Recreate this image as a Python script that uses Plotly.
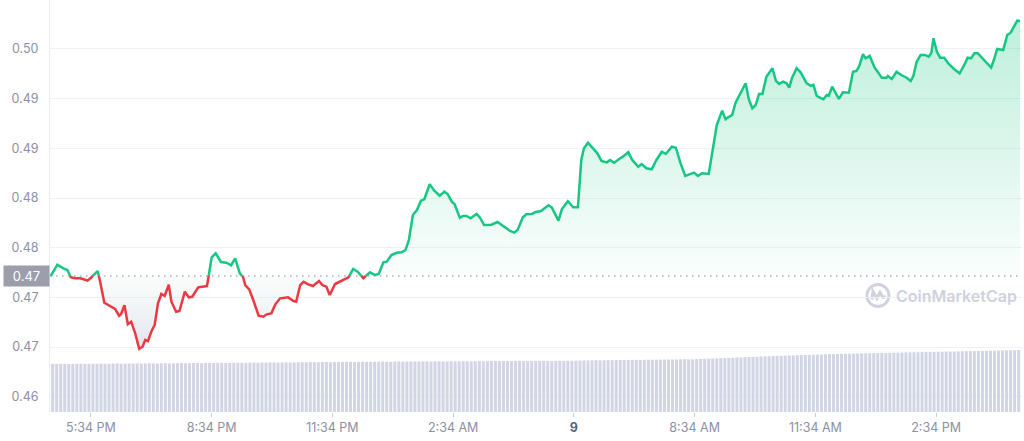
import pandas as pd
import plotly.graph_objects as go

START = pd.Timestamp("2023-08-08 16:34")

# price samples: minutes after 4:34 PM, price in USD
minutes = [
    0, 10, 19, 25, 30, 36, 44, 49, 55, 61,
    70, 73, 80, 88, 96, 102, 105, 110, 115, 120,
    126, 132, 137, 141, 145, 150, 155, 160, 165, 170,
    176, 180, 187, 192, 200, 206, 211, 220, 226, 233,
    235, 240, 246, 254, 262, 269, 275, 282, 287, 290,
    296, 302, 310, 317, 322, 329, 335, 342, 354, 362,
    366, 372, 377, 384, 391, 400, 405, 411, 416, 424,
    431, 440, 444, 451, 458, 466, 476, 483, 489, 496,
    501, 508, 516, 523, 529, 534, 540, 546, 552, 557,
    565, 572, 580, 587, 592, 598, 602, 610, 615, 620,
    626, 635, 640, 646, 657, 666, 677, 685, 691, 696,
    704, 709, 717, 723, 731, 742, 747, 752, 757, 762,
    771, 779, 786, 791, 795, 801, 809, 815, 821, 829,
    834, 840, 849, 853, 861, 867, 876, 881, 888, 896,
    903, 911, 917, 926, 932, 939, 946, 953, 959, 965,
    971, 981, 988, 993, 1001, 1006, 1010, 1016, 1021, 1029,
    1036, 1041, 1046, 1051, 1056, 1061, 1067, 1076, 1081, 1086,
    1092, 1097, 1101, 1105, 1112, 1118, 1127, 1129, 1133, 1137,
    1142, 1149, 1152, 1157, 1160, 1165, 1170, 1175, 1181, 1190,
    1196, 1201, 1205, 1211, 1215, 1221, 1228, 1234, 1239, 1246,
    1248, 1254, 1261, 1268, 1276, 1282, 1286, 1291, 1297, 1303,
    1309, 1313, 1316, 1321, 1326, 1332, 1338, 1347, 1355, 1362,
    1367, 1372, 1377, 1382, 1393, 1402, 1406, 1411, 1420, 1426,
    1431, 1437, 1441, 1445,
]
prices = [
    0.47465, 0.47579, 0.47542, 0.47525, 0.47452, 0.47442, 0.47442, 0.47432, 0.47418, 0.47452,
    0.47515, 0.47432, 0.47196, 0.47163, 0.47133, 0.47065, 0.47082, 0.47170, 0.46979, 0.47005,
    0.46888, 0.46733, 0.46753, 0.46821, 0.46810, 0.46904, 0.46972, 0.47190, 0.47284, 0.47264,
    0.47377, 0.47206, 0.47105, 0.47113, 0.47307, 0.47250, 0.47256, 0.47351, 0.47357, 0.47364,
    0.47442, 0.47653, 0.47693, 0.47606, 0.47599, 0.47573, 0.47643, 0.47492, 0.47452, 0.47374,
    0.47331, 0.47223, 0.47065, 0.47055, 0.47079, 0.47089, 0.47180, 0.47240, 0.47250, 0.47213,
    0.47206, 0.47374, 0.47407, 0.47381, 0.47364, 0.47414, 0.47374, 0.47357, 0.47274, 0.47384,
    0.47407, 0.47432, 0.47452, 0.47535, 0.47505, 0.47442, 0.47502, 0.47475, 0.47485, 0.47603,
    0.47609, 0.47676, 0.47699, 0.47703, 0.47727, 0.47827, 0.48079, 0.48129, 0.48223, 0.48237,
    0.48388, 0.48324, 0.48273, 0.48314, 0.48287, 0.48213, 0.48190, 0.48052, 0.48069, 0.48069,
    0.48046, 0.48089, 0.48052, 0.47978, 0.47981, 0.48008, 0.47951, 0.47918, 0.47901, 0.47928,
    0.48056, 0.48086, 0.48089, 0.48109, 0.48119, 0.48177, 0.48156, 0.48096, 0.48022, 0.48136,
    0.48217, 0.48156, 0.48156, 0.48633, 0.48750, 0.48807, 0.48750, 0.48700, 0.48623, 0.48609,
    0.48633, 0.48605, 0.48650, 0.48666, 0.48710, 0.48633, 0.48565, 0.48592, 0.48549, 0.48539,
    0.48633, 0.48716, 0.48693, 0.48767, 0.48756, 0.48599, 0.48472, 0.48492, 0.48505, 0.48472,
    0.48499, 0.48492, 0.48801, 0.48985, 0.49129, 0.49042, 0.49062, 0.49086, 0.49209, 0.49320,
    0.49405, 0.49237, 0.49153, 0.49186, 0.49297, 0.49297, 0.49471, 0.49556, 0.49431, 0.49398,
    0.49421, 0.49405, 0.49360, 0.49455, 0.49556, 0.49515, 0.49405, 0.49398, 0.49378, 0.49388,
    0.49277, 0.49254, 0.49244, 0.49287, 0.49280, 0.49371, 0.49310, 0.49247, 0.49314, 0.49310,
    0.49521, 0.49528, 0.49572, 0.49697, 0.49656, 0.49680, 0.49566, 0.49505, 0.49461, 0.49461,
    0.49478, 0.49448, 0.49521, 0.49488, 0.49461, 0.49428, 0.49478, 0.49622, 0.49690, 0.49690,
    0.49673, 0.49713, 0.49858, 0.49723, 0.49662, 0.49662, 0.49606, 0.49546, 0.49505, 0.49589,
    0.49662, 0.49656, 0.49707, 0.49707, 0.49622, 0.49562, 0.49639, 0.49750, 0.49740, 0.49891,
    0.49914, 0.49992, 0.50035, 0.50032,
]

# volume bars (millions), one per 6-minute slot
volumes = [
    482, 481, 483, 482, 480, 481, 482, 483, 481, 482,
    483, 482, 484, 483, 482, 484, 485, 483, 484, 485,
    485, 486, 484, 485, 487, 486, 485, 487, 488, 486,
    487, 488, 489, 487, 488, 490, 489, 488, 490, 491,
    490, 491, 492, 491, 490, 492, 493, 492, 491, 493,
    494, 493, 495, 494, 496, 495, 494, 496, 497, 495,
    496, 497, 498, 497, 499, 498, 497, 499, 500, 498,
    500, 501, 500, 502, 501, 500, 502, 503, 501, 502,
    503, 502, 504, 503, 502, 504, 505, 503, 504, 505,
    505, 504, 506, 505, 504, 506, 507, 505, 506, 507,
    507, 506, 508, 507, 506, 508, 509, 507, 508, 509,
    509, 508, 510, 509, 508, 510, 511, 509, 510, 511,
    511, 510, 512, 511, 510, 512, 513, 511, 512, 513,
    514, 515, 516, 515, 517, 518, 516, 517, 519, 518,
    519, 520, 521, 520, 522, 521, 520, 522, 523, 522,
    523, 524, 525, 524, 526, 525, 527, 528, 526, 527,
    529, 531, 532, 534, 535, 537, 538, 540, 541, 543,
    545, 546, 548, 550, 551, 553, 555, 556, 558, 559,
    561, 562, 564, 565, 566, 568, 569, 570, 572, 573,
    574, 575, 577, 578, 579, 580, 581, 582, 583, 584,
    585, 586, 587, 588, 589, 590, 591, 591, 592, 593,
    594, 595, 596, 596, 597, 598, 599, 599, 600, 601,
    602, 603, 604, 604, 605, 606, 607, 608, 608, 609,
    610, 611, 612, 613, 614, 615, 616, 617, 618, 619,
    620,
]
VOL_STEP_MIN = 6

x_tick_minutes = [60, 240, 420, 600, 780, 960, 1140, 1320]
x_tick_labels = ["5:34 PM", "8:34 PM", "11:34 PM", "2:34 AM",
                 "<span style='color:#58667e'><b>9</b></span>",
                 "8:34 AM", "11:34 AM", "2:34 PM"]
y_tick_values = [0.4625, 0.4675, 0.4725, 0.4775, 0.4825, 0.4875, 0.4925, 0.4975]
y_tick_labels = ["0.46", "0.47", "0.47", "0.48", "0.48", "0.49", "0.49", "0.50"]

GREEN = "#16c784"
RED = "#ea3943"
base = prices[0]

def ts(m):
    return START + pd.to_timedelta(m, unit="m")

# split the series at baseline crossings so colours change exactly at the baseline
xm, ys = [], []
n = len(prices)
for i in range(n):
    xm.append(minutes[i]); ys.append(prices[i])
    if i < n - 1 and (prices[i] - base) * (prices[i + 1] - base) < 0:
        f = (base - prices[i]) / (prices[i + 1] - prices[i])
        xm.append(minutes[i] + f * (minutes[i + 1] - minutes[i])); ys.append(base)
xt = [ts(m) for m in xm]
upper = [max(v, base) for v in ys]
lower = [min(v, base) for v in ys]
green_line = [v if v >= base else None for v in ys]
red_line = [v if v <= base else None for v in ys]
basel = [base] * len(ys)

fig = go.Figure()
fig.add_trace(go.Bar(
    x=[ts(VOL_STEP_MIN * i + VOL_STEP_MIN / 2) for i in range(len(volumes))],
    y=volumes, yaxis="y2", marker=dict(color="#d1d5e4", line=dict(width=0)),
    hoverinfo="skip", showlegend=False))
fig.add_trace(go.Scatter(x=xt, y=basel, mode="lines", line=dict(width=0),
                         hoverinfo="skip", showlegend=False))
fig.add_trace(go.Scatter(x=xt, y=upper, mode="lines", line=dict(width=0), fill="tonexty",
                         fillgradient=dict(type="vertical", start=base, stop=max(prices),
                                           colorscale=[[0, "rgba(22,199,132,0.02)"],
                                                       [1, "rgba(22,199,132,0.28)"]]),
                         hoverinfo="skip", showlegend=False))
fig.add_trace(go.Scatter(x=xt, y=basel, mode="lines", line=dict(width=0),
                         hoverinfo="skip", showlegend=False))
fig.add_trace(go.Scatter(x=xt, y=lower, mode="lines", line=dict(width=0), fill="tonexty",
                         fillgradient=dict(type="vertical", start=min(prices), stop=base,
                                           colorscale=[[0, "rgba(170,176,205,0.35)"],
                                                       [1, "rgba(200,230,215,0.10)"]]),
                         hoverinfo="skip", showlegend=False))
fig.add_trace(go.Scatter(x=xt, y=green_line, mode="lines",
                         line=dict(color=GREEN, width=2.5), connectgaps=False, showlegend=False))
fig.add_trace(go.Scatter(x=xt, y=red_line, mode="lines",
                         line=dict(color=RED, width=2.5), connectgaps=False, showlegend=False))

fig.add_shape(type="line", xref="paper", x0=0, x1=1, yref="y", y0=base, y1=base,
              line=dict(color="#a9b0c6", width=1.4, dash="1.5px,4.5px"), layer="below")

# watermark
fig.add_shape(type="circle", xref="paper", yref="paper", xsizemode="pixel", ysizemode="pixel",
              xanchor=0.8518, yanchor=0.2828, x0=-11, x1=11, y0=-11, y1=11,
              line=dict(color="#d0d3de", width=3), layer="below")
fig.add_shape(type="path", xref="paper", yref="paper", xsizemode="pixel", ysizemode="pixel",
              xanchor=0.8518, yanchor=0.2828,
              path="M -6,-4 L -5,4 L -1,-3 L 2,3 L 5,-2 L 8,-1",
              line=dict(color="#d0d3de", width=3), layer="below")
fig.add_annotation(xref="paper", yref="paper", x=0.997, y=0.2816, xanchor="right", yanchor="middle",
                   text="CoinMarketCap", showarrow=False,
                   font=dict(family="Inter", size=16, color="#cfd2dd", weight=600))

# current price tag
fig.add_annotation(xref="paper", yref="y", x=0, y=base, xanchor="right", yanchor="middle",
                   text="0.47", showarrow=False, bgcolor="#9c9eab", width=41, borderpad=2,
                   font=dict(family="Inter", size=13, color="#ffffff"))

fig.update_layout(
    width=1024, height=441,
    margin=dict(l=50, r=2, t=0, b=29),
    paper_bgcolor="#ffffff", plot_bgcolor="#ffffff",
    bargap=0.25,
    showlegend=False,
    font=dict(family="Inter", color="#8a91a3"),
    xaxis=dict(range=[ts(-1), ts(1448)], tickvals=[ts(m) for m in x_tick_minutes],
               ticktext=x_tick_labels, showgrid=False, zeroline=False, showline=False,
               ticks="outside", ticklen=4, tickcolor="#c5cad5", tickwidth=1,
               tickfont=dict(size=12.5, color="#8a91a3")),
    yaxis=dict(range=[0.46096, 0.50243], tickvals=y_tick_values, ticktext=y_tick_labels,
               showgrid=True, gridcolor="#eef3f2", gridwidth=1, zeroline=False,
               showline=True, linecolor="#e8eeee", linewidth=1, ticks="",
               ticklabelstandoff=8, tickfont=dict(size=12.5, color="#8a91a3")),
    yaxis2=dict(overlaying="y", range=[0, 4120], visible=False, fixedrange=True),
)

fig.write_html("out.html")
